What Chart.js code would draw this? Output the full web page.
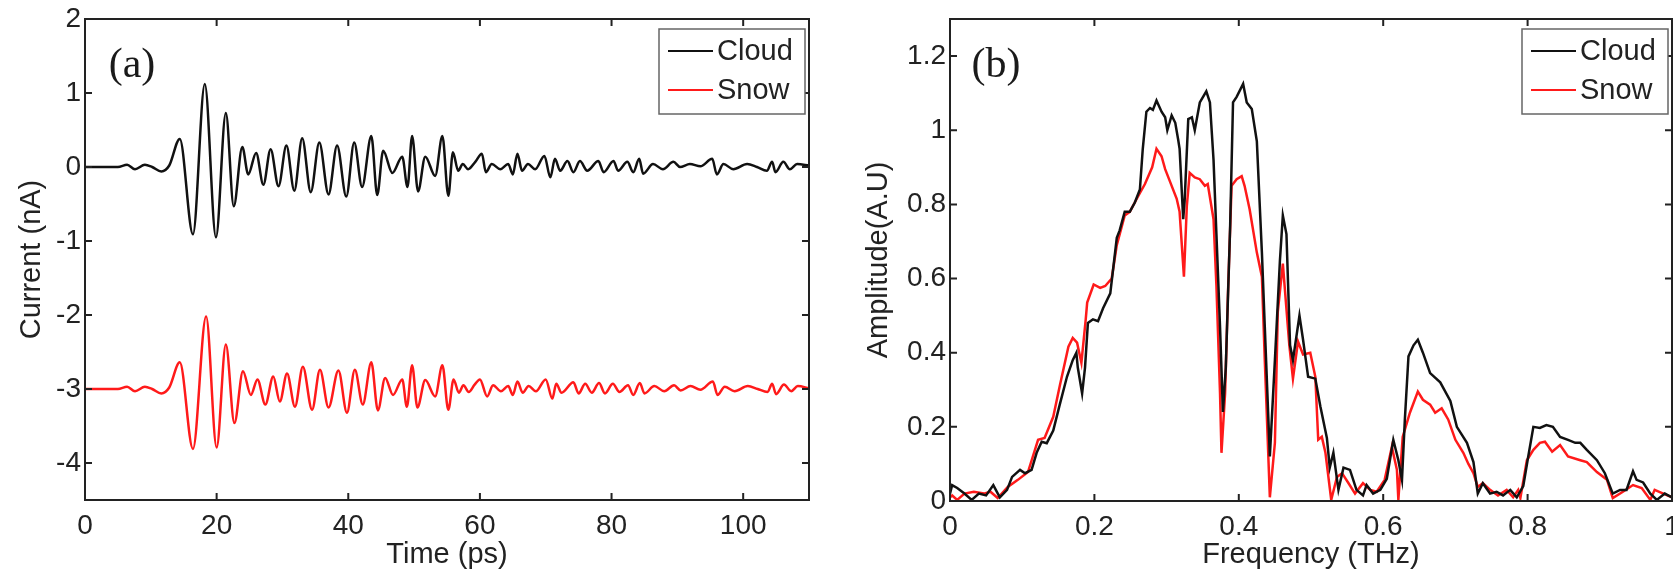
<!DOCTYPE html>
<html lang="en">
<head>
<meta charset="utf-8">
<title>Cloud / Snow</title>
<script src="https://cdn.jsdelivr.net/npm/chart.js@4.4.1/dist/chart.umd.min.js"></script>
<style>
    html, body { margin: 0; padding: 0; background: #fff; overflow: hidden; width: 1673px; height: 574px; }
    canvas { position: absolute; top: 0; }
    #grafica-tiempo { left: 0; }
    #grafica-frecuencia { left: 830px; }
</style>
</head>
<body>
<canvas id="grafica-tiempo" width="830" height="574"></canvas>
<canvas id="grafica-frecuencia" width="880" height="574"></canvas>

<script>
// Datos (a): corriente vs tiempo
const tiempoNube = [0, 5, 6.4, 7.6, 9.1, 10.2, 11.6, 12.8, 14.4, 16.4, 18.2, 19.9, 21.4, 22.6, 23.9, 24.8, 26.0, 27.1, 28.2, 29.4,
    30.6, 31.8, 33.0, 34.3, 35.6, 37.0, 38.3, 39.7, 40.9, 42.1, 43.5, 44.4, 45.3, 46.7, 48.2, 49.0, 49.7, 50.6, 51.7, 53.2,
    54.3, 55.2, 55.9, 56.7, 57.4, 58.2, 59.3, 60.3, 60.9, 61.8, 63.1, 64.3, 65.0, 65.7, 66.4, 67.3, 68.4, 69.8, 70.7, 71.4,
    72.2, 73.3, 74.2, 75.2, 76.3, 78.0, 78.8, 80.3, 81.0, 82.4, 83.3, 84.2, 84.8, 86.3, 87.8, 89.4, 90.4, 91.9, 93.5, 95.3,
    96.0, 97.0, 98.5, 100.6, 102.1, 103.6, 104.4, 104.9, 106.1, 107.1, 108.2, 110];
const corrienteNube = [0, 0, 0.03, -0.03, 0.03, 0, -0.06, 0.02, 0.38, -0.91, 1.12, -0.95, 0.73, -0.53, 0.27, -0.1, 0.19, -0.24, 0.24, -0.26,
    0.29, -0.32, 0.39, -0.34, 0.33, -0.37, 0.29, -0.40, 0.33, -0.27, 0.42, -0.38, 0.22, -0.08, 0.14, -0.27, 0.42, -0.33, 0.14, -0.12,
    0.42, -0.39, 0.2, -0.05, 0.04, -0.03, 0.07, 0.18, -0.07, 0.04, -0.03, 0.04, -0.1, 0.18, -0.05, 0.04, -0.03, 0.15, -0.14, 0.11,
    -0.05, 0.08, -0.07, 0.08, -0.05, 0.08, -0.07, 0.08, -0.05, 0.07, -0.07, 0.11, -0.09, 0.04, -0.03, 0.07, 0, 0.04, 0.01, 0.11,
    -0.1, 0.04, -0.03, 0.04, 0, -0.05, 0.07, -0.07, 0.07, -0.03, 0.04, 0.02];

const tiempoNieve = [0, 5, 6.4, 7.6, 9.1, 10.2, 11.6, 12.8, 14.4, 16.4, 18.4, 20.0, 21.4, 22.7, 24.0, 25.2, 26.2, 27.4, 28.6, 29.6,
    30.7, 31.9, 33.1, 34.5, 35.7, 37.0, 38.5, 39.8, 41.0, 42.2, 43.5, 44.5, 45.6, 46.8, 48.2, 48.9, 49.7, 50.5, 51.7, 53.2,
    54.3, 55.2, 56.0, 56.8, 57.5, 58.3, 59.2, 60.0, 61.1, 62.0, 63.2, 64.3, 65.0, 65.7, 66.5, 67.4, 68.5, 70.0, 71.0, 71.6,
    72.4, 74.2, 75.0, 76.0, 77.0, 78.1, 79.0, 80.2, 81.2, 82.5, 83.3, 84.3, 85.0, 86.5, 88.0, 89.5, 90.5, 92.0, 93.5, 95.4,
    96.1, 97.2, 98.7, 100.7, 102.2, 103.7, 104.4, 105.0, 106.2, 107.3, 108.3, 110];
const corrienteNieve = [-3, -3, -2.97, -3.03, -2.97, -3.0, -3.06, -2.98, -2.64, -3.81, -2.02, -3.79, -2.40, -3.46, -2.76, -3.08, -2.87, -3.21, -2.83, -3.17,
    -2.79, -3.24, -2.70, -3.28, -2.74, -3.25, -2.75, -3.32, -2.74, -3.21, -2.64, -3.29, -2.85, -3.08, -2.87, -3.24, -2.68, -3.25, -2.88, -3.1,
    -2.68, -3.28, -2.87, -3.05, -2.95, -3.04, -2.94, -2.87, -3.1, -2.95, -3.03, -2.96, -3.08, -2.9, -3.05, -2.96, -3.03, -2.87, -3.13, -2.93,
    -3.05, -2.91, -3.06, -2.93, -3.05, -2.92, -3.06, -2.93, -3.04, -2.95, -3.08, -2.92, -3.06, -2.96, -3.03, -2.95, -3.02, -2.96, -3.01, -2.9,
    -3.08, -2.97, -3.03, -2.96, -3.0, -3.04, -2.93, -3.07, -2.94, -3.03, -2.96, -2.99];

// Datos (b): amplitud vs frecuencia
const frecNube = [0, 0.003, 0.01, 0.02, 0.03, 0.04, 0.05, 0.06, 0.069, 0.079, 0.086, 0.097, 0.104, 0.113, 0.12, 0.127, 0.134, 0.143, 0.152, 0.162,
    0.17, 0.175, 0.177, 0.183, 0.187, 0.191, 0.198, 0.205, 0.212, 0.222, 0.231, 0.235, 0.242, 0.249, 0.256, 0.263, 0.267, 0.272, 0.277, 0.281,
    0.286, 0.293, 0.298, 0.301, 0.307, 0.312, 0.316, 0.318, 0.323, 0.325, 0.330, 0.335, 0.339, 0.346, 0.355, 0.360, 0.365, 0.369, 0.374, 0.378,
    0.382, 0.388, 0.392, 0.397, 0.406, 0.411, 0.418, 0.425, 0.432, 0.436, 0.443, 0.450, 0.457, 0.461, 0.466, 0.471, 0.475, 0.484, 0.489, 0.496,
    0.506, 0.513, 0.522, 0.526, 0.531, 0.538, 0.545, 0.554, 0.563, 0.572, 0.577, 0.586, 0.596, 0.605, 0.614, 0.621, 0.626, 0.63, 0.635, 0.642,
    0.648, 0.655, 0.665, 0.679, 0.693, 0.702, 0.716, 0.725, 0.731, 0.738, 0.748, 0.757, 0.766, 0.776, 0.785, 0.794, 0.80, 0.808, 0.817, 0.826,
    0.835, 0.845, 0.856, 0.866, 0.873, 0.882, 0.896, 0.907, 0.918, 0.928, 0.937, 0.946, 0.951, 0.96, 0.97, 0.979, 0.99, 1.0];
const ampNube = [0.02, 0.043, 0.035, 0.02, 0.003, 0.02, 0.015, 0.043, 0.01, 0.03, 0.065, 0.084, 0.075, 0.084, 0.13, 0.16, 0.156, 0.19, 0.26, 0.335,
    0.38, 0.40, 0.36, 0.29, 0.36, 0.48, 0.49, 0.485, 0.52, 0.56, 0.71, 0.73, 0.78, 0.78, 0.805, 0.84, 0.95, 1.05, 1.06, 1.055,
    1.08, 1.05, 1.035, 1.0, 1.04, 1.02, 0.975, 0.95, 0.76, 0.81, 1.03, 1.035, 1.0, 1.075, 1.105, 1.075, 0.92, 0.72, 0.47, 0.24,
    0.36, 0.74, 1.075, 1.09, 1.125, 1.075, 1.057, 0.97, 0.67, 0.47, 0.12, 0.38, 0.65, 0.77, 0.72, 0.42, 0.38, 0.50, 0.435, 0.335,
    0.33, 0.255, 0.17, 0.09, 0.13, 0.03, 0.09, 0.084, 0.03, 0.015, 0.043, 0.02, 0.03, 0.06, 0.165, 0.11, 0.057, 0.22, 0.39, 0.42,
    0.435, 0.40, 0.345, 0.32, 0.27, 0.2, 0.157, 0.105, 0.02, 0.048, 0.02, 0.025, 0.015, 0.03, 0.01, 0.04, 0.11, 0.2, 0.197, 0.205,
    0.2, 0.173, 0.165, 0.157, 0.157, 0.138, 0.11, 0.075, 0.02, 0.03, 0.03, 0.08, 0.057, 0.05, 0.02, 0.003, 0.02, 0.01];

const frecNieve = [0, 0.003, 0.01, 0.02, 0.033, 0.047, 0.056, 0.066, 0.08, 0.094, 0.108, 0.122, 0.131, 0.143, 0.152, 0.164, 0.17, 0.176, 0.182, 0.188,
    0.19, 0.199, 0.208, 0.215, 0.224, 0.231, 0.242, 0.249, 0.26, 0.27, 0.28, 0.286, 0.293, 0.298, 0.305, 0.314, 0.318, 0.324, 0.328, 0.332,
    0.339, 0.346, 0.353, 0.357, 0.365, 0.369, 0.374, 0.376, 0.381, 0.385, 0.39, 0.397, 0.404, 0.408, 0.415, 0.425, 0.432, 0.436, 0.443, 0.45,
    0.454, 0.461, 0.47, 0.475, 0.482, 0.489, 0.499, 0.506, 0.51, 0.515, 0.52, 0.528, 0.536, 0.543, 0.552, 0.561, 0.572, 0.582, 0.591, 0.602,
    0.612, 0.619, 0.621, 0.627, 0.637, 0.648, 0.655, 0.665, 0.672, 0.681, 0.69, 0.70, 0.711, 0.718, 0.725, 0.731, 0.738, 0.748, 0.759, 0.771,
    0.78, 0.787, 0.79, 0.799, 0.808, 0.817, 0.824, 0.834, 0.845, 0.856, 0.873, 0.882, 0.896, 0.91, 0.918, 0.932, 0.946, 0.958, 0.97, 0.976,
    0.988, 1.0];
const ampNieve = [0.01, 0.015, 0.003, 0.02, 0.025, 0.02, 0.025, 0.008, 0.038, 0.057, 0.078, 0.165, 0.17, 0.227, 0.31, 0.416, 0.44, 0.427, 0.373, 0.49,
    0.535, 0.584, 0.575, 0.58, 0.60, 0.69, 0.77, 0.78, 0.82, 0.855, 0.90, 0.95, 0.93, 0.895, 0.86, 0.815, 0.78, 0.605, 0.795, 0.885,
    0.873, 0.868, 0.85, 0.855, 0.76, 0.58, 0.29, 0.13, 0.29, 0.56, 0.85, 0.868, 0.876, 0.85, 0.787, 0.67, 0.605, 0.38, 0.01, 0.157,
    0.51, 0.64, 0.42, 0.33, 0.43, 0.395, 0.40, 0.335, 0.165, 0.173, 0.13, 0.003, 0.065, 0.075, 0.048, 0.02, 0.048, 0.03, 0.025, 0.057,
    0.146, 0.084, 0.003, 0.173, 0.238, 0.295, 0.273, 0.26, 0.238, 0.25, 0.22, 0.165, 0.13, 0.1, 0.075, 0.038, 0.048, 0.03, 0.015, 0.03,
    0.01, 0.03, 0.008, 0.11, 0.138, 0.157, 0.16, 0.133, 0.151, 0.12, 0.11, 0.105, 0.078, 0.057, 0.008, 0.025, 0.043, 0.035, 0.003, 0.03,
    0.02, 0.01];

// Marcas de los ejes
const ticksTiempo = [0, 20, 40, 60, 80, 100];
const etiquetasTiempo = ["0", "20", "40", "60", "80", "100"];
const ticksCorriente = [-4, -3, -2, -1, 0, 1, 2];
const etiquetasCorriente = ["-4", "-3", "-2", "-1", "0", "1", "2"];
const ticksFrecuencia = [0, 0.2, 0.4, 0.6, 0.8, 1];
const etiquetasFrecuencia = ["0", "0.2", "0.4", "0.6", "0.8", "1"];
const ticksAmplitud = [0, 0.2, 0.4, 0.6, 0.8, 1, 1.2];
const etiquetasAmplitud = ["0", "0.2", "0.4", "0.6", "0.8", "1", "1.2"];

const series = ["Cloud", "Snow"];
const colores = ["#111111", "#ff1a1a"];

const colorTexto = "#222222";
const fuenteTicks = { family: "'Liberation Sans', Arial, sans-serif", size: 28, lineHeight: 1 };
const fuenteTitulo = { family: "'Liberation Sans', Arial, sans-serif", size: 29, lineHeight: 1 };

// juntar x,y en puntos
function puntos(xs, ys) {
    return xs.map((x, i) => ({ x: x, y: ys[i] }));
}

// Caja tipo matlab con marcas hacia adentro, etiqueta del panel y leyenda
const marcoMatlab = {
    id: "marcoMatlab",
    afterDatasetsDraw(chart, args, opts) {
        const { ctx, chartArea: a, scales } = chart;
        ctx.save();

        ctx.strokeStyle = "#222";
        ctx.lineWidth = 2;
        ctx.strokeRect(a.left, a.top, a.right - a.left, a.bottom - a.top);

        const largo = 7;
        ctx.beginPath();
        scales.x.ticks.forEach(t => {
            const px = scales.x.getPixelForValue(t.value);
            ctx.moveTo(px, a.bottom); ctx.lineTo(px, a.bottom - largo);
            ctx.moveTo(px, a.top); ctx.lineTo(px, a.top + largo);
        });
        scales.y.ticks.forEach(t => {
            const py = scales.y.getPixelForValue(t.value);
            ctx.moveTo(a.left, py); ctx.lineTo(a.left + largo, py);
            ctx.moveTo(a.right, py); ctx.lineTo(a.right - largo, py);
        });
        ctx.stroke();

        // (a) / (b)
        ctx.font = "42px 'Liberation Serif', 'Times New Roman', serif";
        ctx.fillStyle = "#1a1a1a";
        ctx.textAlign = "center";
        ctx.textBaseline = "middle";
        ctx.fillText(opts.etiqueta, a.left + opts.etiquetaX, a.top + 47);

        // leyenda
        const ancho = 146, alto = 85;
        const bx = a.right - 4 - ancho, by = a.top + 10;
        ctx.fillStyle = "#fff";
        ctx.fillRect(bx, by, ancho, alto);
        ctx.strokeStyle = "#666";
        ctx.lineWidth = 1.5;
        ctx.strokeRect(bx, by, ancho, alto);

        ctx.font = "29px 'Liberation Sans', Arial, sans-serif";
        ctx.textAlign = "left";
        chart.data.datasets.forEach((ds, i) => {
            const fy = by + 22 + i * 39;
            ctx.strokeStyle = ds.borderColor;
            ctx.lineWidth = 2;
            ctx.beginPath();
            ctx.moveTo(bx + 9, fy);
            ctx.lineTo(bx + 54, fy);
            ctx.stroke();
            ctx.fillStyle = colorTexto;
            ctx.fillText(ds.label, bx + 58, fy + 1);
        });

        ctx.restore();
    }
};

function ejeX(min, max, valores, etiquetas, titulo, alto) {
    return {
        type: "linear",
        min: min,
        max: max,
        afterBuildTicks: s => { s.ticks = valores.map(v => ({ value: v })); },
        afterFit: s => { s.height = alto; },
        grid: { display: false, drawTicks: false },
        border: { display: false },
        ticks: { font: fuenteTicks, color: colorTexto, padding: 12, maxRotation: 0, autoSkip: false,
                 callback: (v, i) => etiquetas[i] },
        title: { display: true, text: titulo, font: fuenteTitulo, color: colorTexto, padding: { top: 0, bottom: 5 } }
    };
}

function ejeY(min, max, valores, etiquetas, titulo, ancho, centroTitulo) {
    return {
        type: "linear",
        min: min,
        max: max,
        afterBuildTicks: s => { s.ticks = valores.map(v => ({ value: v })); },
        afterFit: s => { s.width = ancho; },
        grid: { display: false, drawTicks: false },
        border: { display: false },
        ticks: { font: fuenteTicks, color: colorTexto, padding: 4, autoSkip: false,
                 callback: (v, i) => etiquetas[i] },
        title: { display: true, text: titulo, font: fuenteTitulo, color: colorTexto,
                 padding: { top: centroTitulo - 14.5, bottom: 0 } }
    };
}

// Grafica (a)
new Chart(document.getElementById("grafica-tiempo"), {
    type: "line",
    data: {
        datasets: [
            { label: series[0], data: puntos(tiempoNube, corrienteNube), borderColor: colores[0], borderWidth: 2.5,
              pointRadius: 0, cubicInterpolationMode: "monotone" },
            { label: series[1], data: puntos(tiempoNieve, corrienteNieve), borderColor: colores[1], borderWidth: 2.5,
              pointRadius: 0, cubicInterpolationMode: "monotone" }
        ]
    },
    options: {
        responsive: false,
        animation: false,
        layout: { padding: { left: 0, right: 21, top: 19, bottom: 0 } },
        scales: {
            x: ejeX(0, 110, ticksTiempo, etiquetasTiempo, "Time (ps)", 74),
            y: ejeY(-4.5, 2, ticksCorriente, etiquetasCorriente, "Current (nA)", 85, 32)
        },
        plugins: {
            legend: { display: false },
            tooltip: { enabled: false },
            marcoMatlab: { etiqueta: "(a)", etiquetaX: 47 }
        }
    },
    plugins: [marcoMatlab]
});

// Grafica (b)
new Chart(document.getElementById("grafica-frecuencia"), {
    type: "line",
    data: {
        datasets: [
            { label: series[0], data: puntos(frecNube, ampNube), borderColor: colores[0], borderWidth: 2.5,
              pointRadius: 0, tension: 0 },
            { label: series[1], data: puntos(frecNieve, ampNieve), borderColor: colores[1], borderWidth: 2.5,
              pointRadius: 0, tension: 0 }
        ]
    },
    options: {
        responsive: false,
        animation: false,
        layout: { padding: { left: 0, right: 38, top: 19, bottom: 0 } },
        scales: {
            x: ejeX(0, 1, ticksFrecuencia, etiquetasFrecuencia, "Frequency (THz)", 73),
            y: ejeY(0, 1.3, ticksAmplitud, etiquetasAmplitud, "Amplitude(A.U)", 120, 49)
        },
        plugins: {
            legend: { display: false },
            tooltip: { enabled: false },
            marcoMatlab: { etiqueta: "(b)", etiquetaX: 46 }
        }
    },
    plugins: [marcoMatlab]
});
</script>
</body>
</html>
